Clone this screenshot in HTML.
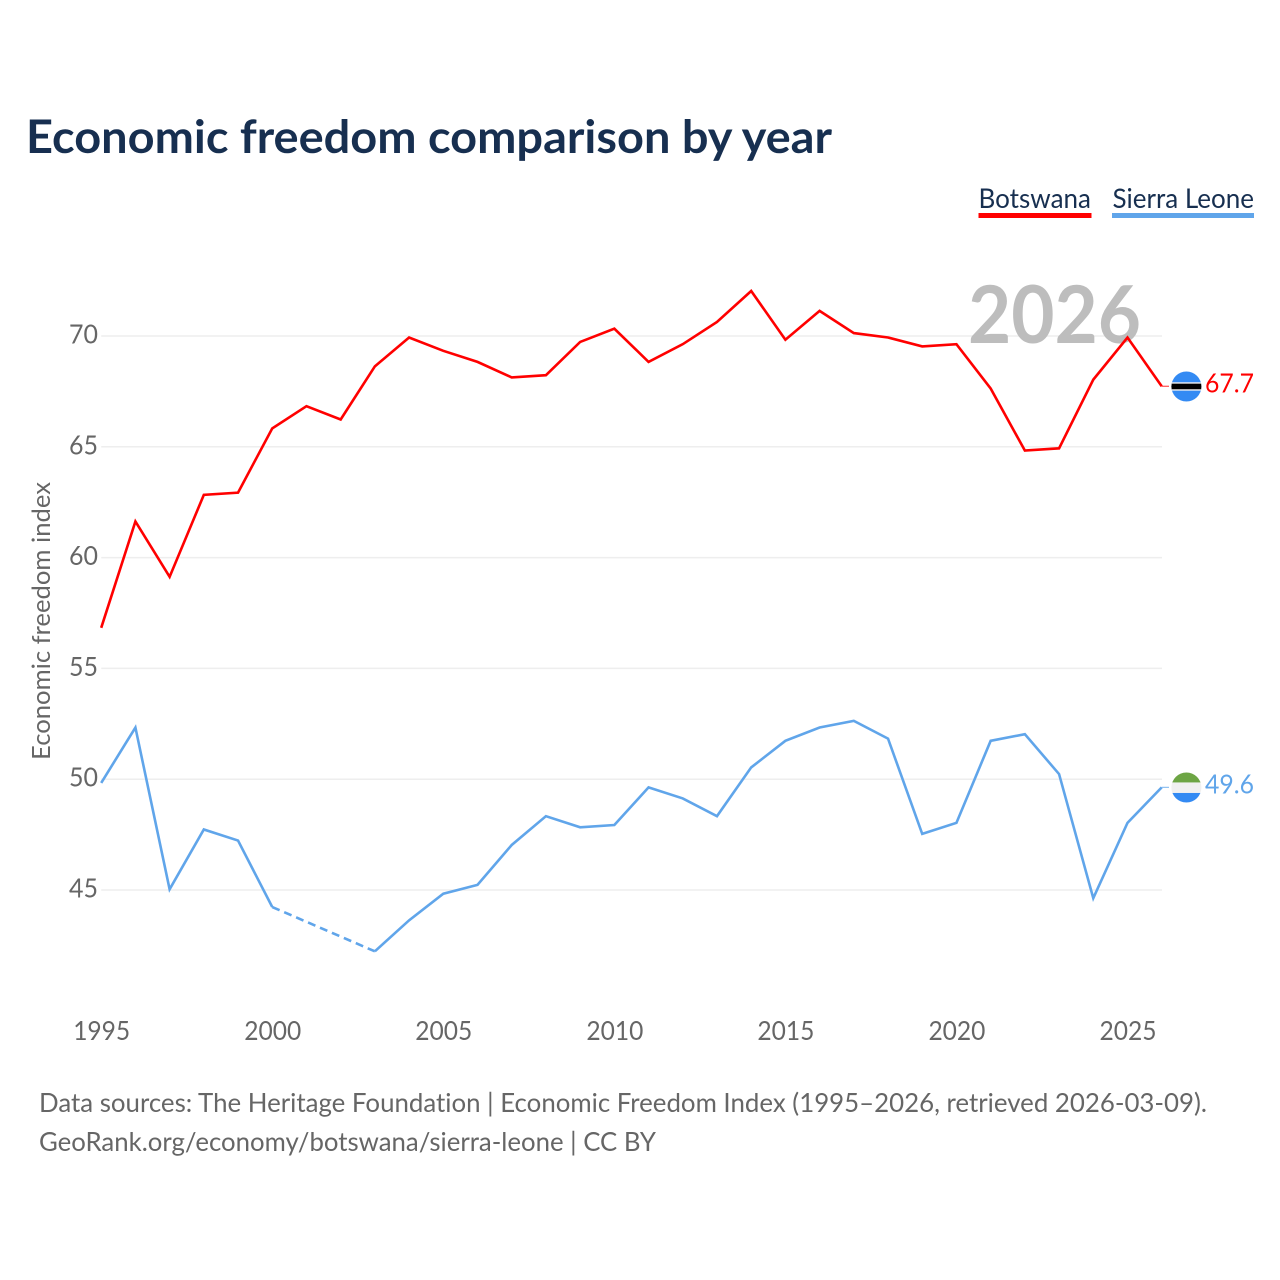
<!DOCTYPE html>
<html lang="en">
<head>
<meta charset="utf-8">
<title>Economic freedom comparison by year</title>
<style>
html,body{margin:0;padding:0;background:#fff;width:1280px;height:1280px;overflow:hidden}
svg{display:block}
text{font-family:"Lato","Carlito","Liberation Sans",sans-serif;font-variant-ligatures:none}
</style>
</head>
<body>
<svg id="chart" xmlns="http://www.w3.org/2000/svg" width="1280" height="1280" viewBox="0 0 1280 1280">
<defs>
<clipPath id="clip-bw"><circle id="clip-bw-c" cx="1186.4" cy="386" r="15"></circle></clipPath>
<clipPath id="clip-sl"><circle id="clip-sl-c" cx="1186.4" cy="787" r="15"></circle></clipPath>
</defs>
<text x="26" y="153" font-size="46" font-weight="700" fill="#172f50" textLength="806" lengthAdjust="spacingAndGlyphs">Economic freedom comparison by year</text>
<g>
<g>
<text x="978.5" y="208" font-size="27" fill="#172f50" textLength="112.5" lengthAdjust="spacingAndGlyphs">Botswana</text>
<rect x="978.5" y="213" width="113" height="5" fill="#ff0000"></rect>
</g>
<g>
<text x="1112.5" y="208" font-size="27" fill="#172f50" textLength="141.5" lengthAdjust="spacingAndGlyphs">Sierra Leone</text>
<rect x="1112" y="213" width="142" height="5" fill="#60a5ea"></rect>
</g>
</g>
<g id="grid"></g>
<g id="yticks"></g>
<g id="xticks"></g>
<text transform="translate(50,621) rotate(-90)" text-anchor="middle" font-size="25" fill="#666666" textLength="278" lengthAdjust="spacingAndGlyphs">Economic freedom index</text>
<text x="968" y="343" font-size="80" font-weight="700" fill="#bdbdbd" textLength="173" lengthAdjust="spacingAndGlyphs">2026</text>
<g id="series"></g>
<g id="flag-bw" clip-path="url(#clip-bw)"></g>
<g id="flag-sl" clip-path="url(#clip-sl)"></g>
<g id="endlabels"></g>
<text x="39" y="1112" font-size="26.5" fill="#666666" textLength="1168" lengthAdjust="spacingAndGlyphs">Data sources: The Heritage Foundation | Economic Freedom Index (1995–2026, retrieved 2026-03-09).</text>
<text x="39" y="1151" font-size="26.5" fill="#666666" textLength="617" lengthAdjust="spacingAndGlyphs">GeoRank.org/economy/botswana/sierra-leone | CC BY</text>
</svg>
<script>
const startYear = 1995;
const botswana = [56.8,61.6,59.1,62.8,62.9,65.8,66.8,66.2,68.6,69.9,69.3,68.8,68.1,68.2,69.7,70.3,68.8,69.6,70.6,72.0,69.8,71.1,70.1,69.9,69.5,69.6,67.6,64.8,64.9,68.0,69.9,67.7];
const sierraLeone = [49.8,52.3,45.0,47.7,47.2,44.2,null,null,42.2,43.6,44.8,45.2,47.0,48.3,47.8,47.9,49.6,49.1,48.3,50.5,51.7,52.3,52.6,51.8,47.5,48.0,51.7,52.0,50.2,44.6,48.0,49.6];
const yTicks = [45,50,55,60,65,70];
const xTicks = [1995,2000,2005,2010,2015,2020,2025];

const NS = 'http://www.w3.org/2000/svg';
const PLOT_LEFT = 101.2, PLOT_RIGHT = 1161.7;
const endYear = startYear + botswana.length - 1;
function xScale(year){ return PLOT_LEFT + (year - startYear) * (PLOT_RIGHT - PLOT_LEFT) / (endYear - startYear); }
function yScale(v){ return 335.3 + (70 - v) * 22.16; }
function mk(tag, attrs, parent){
  const el = document.createElementNS(NS, tag);
  for (const k in attrs) el.setAttribute(k, attrs[k]);
  parent.appendChild(el);
  return el;
}
const grid = document.getElementById('grid');
const yg = document.getElementById('yticks');
const xg = document.getElementById('xticks');
const seriesG = document.getElementById('series');
const labels = document.getElementById('endlabels');

yTicks.forEach(function(t){
  const line = mk('line', {x1:PLOT_LEFT, x2:1162, y1:yScale(t) + 0.7, y2:yScale(t) + 0.7, stroke:'#eeeeee', 'stroke-width':1.5}, grid);
  
  
  const label = mk('text', {x:98, y:yScale(t) + 8.2, 'text-anchor':'end', 'font-size':26, fill:'#666666', textLength:29, lengthAdjust:'spacingAndGlyphs'}, yg);
  label.textContent = String(t);
  
  
});
xTicks.forEach(function(t){
  const label = mk('text', {x:xScale(t) + 0.5, y:1040, 'text-anchor':'middle', 'font-size':26, fill:'#666666', textLength:57, lengthAdjust:'spacingAndGlyphs'}, xg);
  label.textContent = String(t);
  
  
});

function drawSeries(values, color, key){
  let seg = [], prev = null;
  function flush(){
    if (seg.length > 1) {
      const p = mk('polyline', {points:seg.join(' '), fill:'none', stroke:color, 'stroke-width':2.6, 'stroke-linejoin':'miter'}, seriesG);
      
      
    }
    seg = [];
  }
  values.forEach(function(v, i){
    if (v === null) return;
    const year = startYear + i;
    const pt = xScale(year) + ',' + yScale(v);
    if (prev !== null && i - prev > 1) {
      flush();
      const d = mk('line', {x1:xScale(startYear + prev), y1:yScale(values[prev]), x2:xScale(year), y2:yScale(v), stroke:color, 'stroke-width':2.6, 'stroke-dasharray':'8 5'}, seriesG);
      
      
    }
    seg.push(pt);
    prev = i;
  });
  flush();
  const last = values[values.length - 1];
  const c = mk('line', {x1:PLOT_RIGHT, x2:1169, y1:yScale(last), y2:yScale(last), stroke:color, 'stroke-width':1.2, opacity:0.7}, seriesG);
  
  
  const lab = mk('text', {x:1254, y:yScale(last) + 6.3, 'text-anchor':'end', 'font-size':26, fill:color, textLength:49, lengthAdjust:'spacingAndGlyphs'}, labels);
  lab.textContent = last.toFixed(1);
  
  
}
drawSeries(botswana, '#ff0000', 'botswana');
drawSeries(sierraLeone, '#60a5ea', 'sierra-leone');

const bwY = yScale(botswana[botswana.length - 1]) + 0.2;
const slY = yScale(sierraLeone[sierraLeone.length - 1]) + 0.1;
document.getElementById('clip-bw-c').setAttribute('cy', bwY);
document.getElementById('clip-sl-c').setAttribute('cy', slY);
const fb = document.getElementById('flag-bw');
mk('rect', {x:1171, y:bwY - 15, width:31, height:30, fill:'#338af3'}, fb);
mk('rect', {x:1171, y:bwY - 4.2, width:31, height:8.4, fill:'#f0f0f0'}, fb);
mk('rect', {x:1171, y:bwY - 2.8, width:31, height:5.6, fill:'#000000'}, fb);
const fs = document.getElementById('flag-sl');
mk('rect', {x:1171, y:slY - 15, width:31, height:10, fill:'#6da544'}, fs);
mk('rect', {x:1171, y:slY - 5, width:31, height:10.5, fill:'#f0f0f0'}, fs);
mk('rect', {x:1171, y:slY + 5.5, width:31, height:9.5, fill:'#338af3'}, fs);
</script>
</body>
</html>
